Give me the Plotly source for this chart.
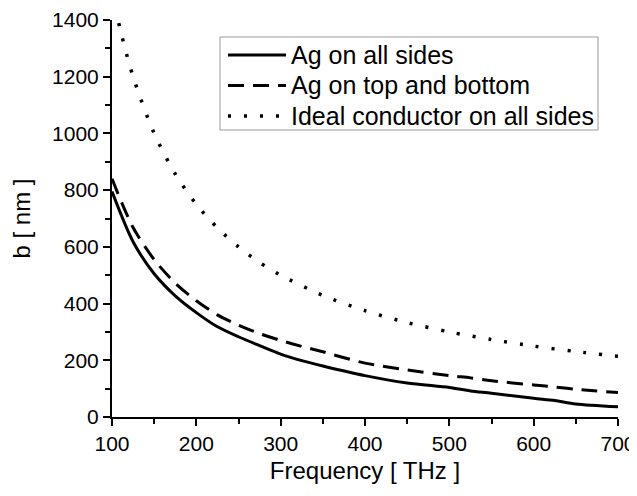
import plotly.graph_objects as go

freq = [100, 125, 150, 175, 200, 225, 250, 275, 300, 325, 350, 400, 450, 500, 525, 550, 600, 625, 650, 700]
ag_all = [795, 618, 505, 427, 368, 318, 283, 252, 222, 199, 180, 146, 120, 104, 92, 84, 66, 58, 46, 36]
ag_tb = [840, 668, 555, 472, 410, 360, 324, 294, 270, 249, 230, 190, 166, 146, 138, 128, 113, 106, 98, 86]
freq_ideal = [100, 110, 125, 150, 175, 200, 225, 250, 275, 300, 350, 400, 450, 500, 550, 600, 650, 700]
ideal = [1500, 1364, 1200, 1000, 857, 750, 667, 600, 545, 500, 429, 375, 333, 300, 273, 250, 231, 214]
series_names = ["Ag on all sides", "Ag on top and bottom", "Ideal conductor on all sides"]

styles = [dict(width=3, dash="solid"),
          dict(width=3, dash="16px,9px"),
          dict(width=3.5, dash="3px,13px")]

fig = go.Figure()
fig.add_trace(go.Scatter(x=freq, y=ag_all, mode="lines", name=series_names[0],
                         line=dict(color="black", shape="spline", smoothing=0.8, **styles[0])))
fig.add_trace(go.Scatter(x=freq, y=ag_tb, mode="lines", name=series_names[1],
                         line=dict(color="black", shape="spline", smoothing=0.8, **styles[1])))
fig.add_trace(go.Scatter(x=freq_ideal, y=ideal, mode="lines", name=series_names[2],
                         line=dict(color="black", shape="spline", smoothing=0.8, **styles[2])))

# legend drawn in paper coordinates (box + samples + real text labels)
top_px, bottom_px, left_px = 12, 409, 104
plot_w, plot_h = 506, bottom_px - top_px
def px(xp):  # figure pixel -> paper x
    return (xp - left_px) / plot_w
def py(yp):  # figure pixel -> paper y
    return (bottom_px - yp) / plot_h

shapes = [dict(type="rect", xref="paper", yref="paper", x0=px(212), x1=px(590), y0=py(122), y1=py(29),
               line=dict(color="#9a9a9a", width=1), fillcolor="rgba(0,0,0,0)", layer="above")]
annotations = []
for i, (nm, st) in enumerate(zip(series_names, styles)):
    yy = py(47 + 30.5 * i)
    shapes.append(dict(type="line", xref="paper", yref="paper", x0=px(220), x1=px(278), y0=yy, y1=yy,
                       line=dict(color="black", width=st["width"], dash=st["dash"])))
    annotations.append(dict(xref="paper", yref="paper", x=px(281), y=yy, xanchor="left", yanchor="middle",
                            text=nm, showarrow=False, font=dict(size=25, color="black")))

font = "Liberation Sans, Arial, sans-serif"
fig.update_layout(
    width=629, height=488,
    margin=dict(l=left_px, r=19, t=top_px, b=488 - bottom_px),
    paper_bgcolor="white", plot_bgcolor="white",
    font=dict(family=font, color="black", size=21),
    showlegend=False,
    shapes=shapes, annotations=annotations,
)
fig.update_xaxes(range=[100, 700], tickvals=[100, 200, 300, 400, 500, 600, 700],
                 ticks="outside", ticklen=7, tickwidth=2, tickcolor="black",
                 minor=dict(tickvals=[150, 250, 350, 450, 550, 650], ticks="outside", ticklen=5, tickwidth=2, tickcolor="black"),
                 showline=True, linewidth=2, linecolor="black", showgrid=False, zeroline=False,
                 automargin=False, ticklabeloverflow="allow",
                 title=dict(text="Frequency [ THz ]", font=dict(size=24), standoff=8),
                 tickfont=dict(size=21))
fig.update_yaxes(range=[0, 1400], tickvals=[0, 200, 400, 600, 800, 1000, 1200, 1400],
                 ticks="outside", ticklen=7, tickwidth=2, tickcolor="black",
                 minor=dict(tickvals=[100, 300, 500, 700, 900, 1100, 1300], ticks="outside", ticklen=5, tickwidth=2, tickcolor="black"),
                 showline=True, linewidth=2, linecolor="black", showgrid=False, zeroline=False,
                 automargin=False, ticklabeloverflow="allow",
                 title=dict(text="b [ nm ]", font=dict(size=24), standoff=17),
                 tickfont=dict(size=21))
fig.write_html("out.html")
